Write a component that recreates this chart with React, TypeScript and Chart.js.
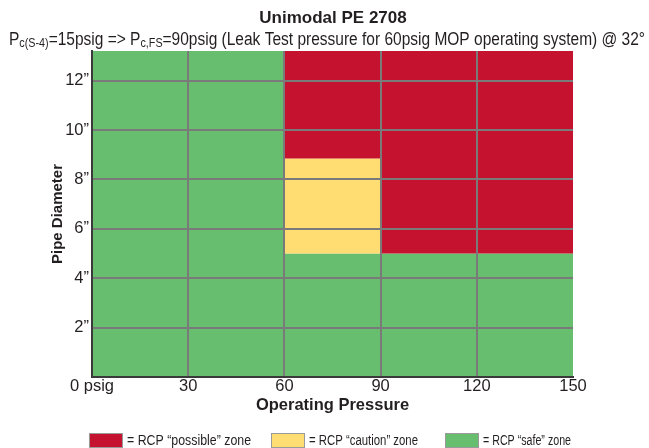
import React, { useEffect, useRef } from 'react';
import { Chart, registerables } from 'chart.js';

Chart.register(...registerables);

// ---------- data ----------
const pressureTicks = [0, 30, 60, 90, 120, 150];
const pressureTickLabels = ['0 psig', '30', '60', '90', '120', '150'];
const diameterTicks = [0, 2, 4, 6, 8, 10, 12];
const diameterTickLabels = ['', '2”', '4”', '6”', '8”', '10”', '12”'];
const pressureMin = 0;
const pressureMax = 150;
const diameterMin = 0;
const diameterMax = 13.2;

const zoneLabels = ['= RCP “possible” zone', '= RCP “caution” zone', '= RCP “safe” zone'];
const zoneColors = ['#C4122F', '#FFDD72', '#66BE6E'];

// zone outlines (pressure, diameter)
const possiblePressure = [60, 150, 150, 90, 90, 60];
const possibleDiameter = [13.2, 13.2, 5, 5, 8.85, 8.85];
const cautionPressure = [60, 90, 90, 60];
const cautionDiameter = [8.85, 8.85, 5, 5];
const safePressure = [0, 150, 150, 60, 60, 0];
const safeDiameter = [0, 0, 5, 5, 13.2, 13.2];

const titleText = 'Unimodal PE 2708';
const subtitleParts: { t: string; sub: boolean }[] = [
  { t: 'P', sub: false },
  { t: 'c(S-4)', sub: true },
  { t: '=15psig => P', sub: false },
  { t: 'c,FS', sub: true },
  { t: '=90psig (Leak Test pressure for 60psig MOP operating system) @ 32°', sub: false },
];
const xTitle = 'Operating Pressure';
const yTitle = 'Pipe Diameter';

// ---------- styles ----------
const SANS = '"Liberation Sans", Arial, Helvetica, sans-serif';
const NARROW = '"Liberation Sans Narrow", "Liberation Sans", Arial, sans-serif';
const TEXT = '#231f20';
const GRID = '#7a7a7a';
const AXIS = '#3a3a3a';

const toPoints = (xs: number[], ys: number[]) => xs.map((x, i) => ({ x, y: ys[i] }));

const textPlugin = {
  id: 'titlesAndLegend',
  afterDraw(chart: any) {
    const ctx: CanvasRenderingContext2D = chart.ctx;
    ctx.save();
    ctx.fillStyle = TEXT;
    ctx.textBaseline = 'alphabetic';

    // title
    ctx.font = `bold 17px ${SANS}`;
    ctx.textAlign = 'center';
    ctx.fillText(titleText, 333, 23, 164);

    // subtitle with subscripts
    const mainFont = `18px ${NARROW}`;
    const subFont = `12.5px ${NARROW}`;
    let total = 0;
    const widths = subtitleParts.map((p) => {
      ctx.font = p.sub ? subFont : mainFont;
      const w = ctx.measureText(p.t).width;
      total += w;
      return w;
    });
    const sx = 636 / total;
    ctx.save();
    ctx.translate(9, 45);
    ctx.scale(sx, 1);
    ctx.textAlign = 'left';
    let cx = 0;
    subtitleParts.forEach((p, i) => {
      ctx.font = p.sub ? subFont : mainFont;
      ctx.fillText(p.t, cx, p.sub ? 2 : 0);
      cx += widths[i];
    });
    ctx.restore();

    // legend
    const legendX = [89, 271, 445];
    const legendW = [124, 109, 88];
    ctx.textAlign = 'left';
    ctx.font = `14px ${NARROW}`;
    chart.data.datasets.forEach((ds: any, i: number) => {
      const x = legendX[i];
      ctx.fillStyle = ds.backgroundColor;
      ctx.fillRect(x, 433, 33, 14);
      ctx.strokeStyle = '#9a9a9a';
      ctx.lineWidth = 1;
      ctx.strokeRect(x + 0.5, 433.5, 33, 14);
      ctx.fillStyle = TEXT;
      ctx.fillText(ds.label, x + 38, 445, legendW[i]);
    });
    ctx.restore();
  },
};

export default function App() {
  const canvasRef = useRef<HTMLCanvasElement | null>(null);

  useEffect(() => {
    document.body.style.margin = '0';
    const canvas = canvasRef.current;
    if (!canvas) return;

    const outlines = [
      toPoints(possiblePressure, possibleDiameter),
      toPoints(cautionPressure, cautionDiameter),
      toPoints(safePressure, safeDiameter),
    ];

    const chart = new Chart(canvas, {
      type: 'line',
      data: {
        datasets: outlines.map((pts, i) => ({
          label: zoneLabels[i],
          data: pts,
          backgroundColor: zoneColors[i],
          borderColor: 'rgba(0,0,0,0)',
          borderWidth: 0,
          pointRadius: 0,
          pointHoverRadius: 0,
          fill: 'shape',
          tension: 0,
          order: i === 2 ? 2 : 1,
        })),
      },
      options: {
        animation: false,
        responsive: true,
        maintainAspectRatio: false,
        events: [],
        layout: { padding: { top: 51, right: 76, bottom: 33, left: 0 } },
        plugins: {
          legend: { display: false },
          title: { display: false },
          tooltip: { enabled: false },
        },
        scales: {
          x: {
            type: 'linear',
            min: pressureMin,
            max: pressureMax,
            afterBuildTicks: (s: any) => {
              s.ticks = pressureTicks.map((v) => ({ value: v }));
            },
            afterFit: (s: any) => {
              s.height = 38;
            },
            ticks: {
              autoSkip: false,
              maxRotation: 0,
              padding: 0,
              color: TEXT,
              font: { family: SANS, size: 16.5 },
              callback: (v: any) => {
                const i = pressureTicks.indexOf(Number(v));
                return i >= 0 ? pressureTickLabels[i] : '';
              },
            },
            grid: {
              z: 1,
              color: (c: any) =>
                c.tick && (c.tick.value === pressureMin || c.tick.value === pressureMax)
                  ? 'rgba(0,0,0,0)'
                  : GRID,
              lineWidth: 2,
              drawTicks: false,
            },
            border: { display: true, color: AXIS, width: 2, z: 2 },
            title: {
              display: true,
              text: xTitle,
              color: TEXT,
              font: { family: SANS, size: 16.5, weight: 'bold' },
              padding: 0,
            },
          },
          y: {
            type: 'linear',
            min: diameterMin,
            max: diameterMax,
            afterBuildTicks: (s: any) => {
              s.ticks = diameterTicks.map((v) => ({ value: v }));
            },
            afterFit: (s: any) => {
              s.width = 92;
            },
            ticks: {
              autoSkip: false,
              padding: 3,
              color: TEXT,
              font: { family: SANS, size: 16.5 },
              callback: (v: any) => {
                const i = diameterTicks.indexOf(Number(v));
                return i >= 0 ? diameterTickLabels[i] : '';
              },
            },
            grid: {
              z: 1,
              color: (c: any) =>
                c.tick && (c.tick.value === diameterMin || c.tick.value === diameterMax)
                  ? 'rgba(0,0,0,0)'
                  : GRID,
              lineWidth: 2,
              drawTicks: false,
            },
            border: { display: true, color: AXIS, width: 2, z: 2 },
            title: {
              display: true,
              text: yTitle,
              color: TEXT,
              font: { family: SANS, size: 15, weight: 'bold' },
              padding: { top: 49, bottom: 0 },
            },
          },
        },
      },
      plugins: [textPlugin],
    } as any);

    return () => {
      chart.destroy();
    };
  }, []);

  return (
    <div style={{ position: 'relative', width: '649px', height: '448px' }}>
      <canvas ref={canvasRef} />
    </div>
  );
}
